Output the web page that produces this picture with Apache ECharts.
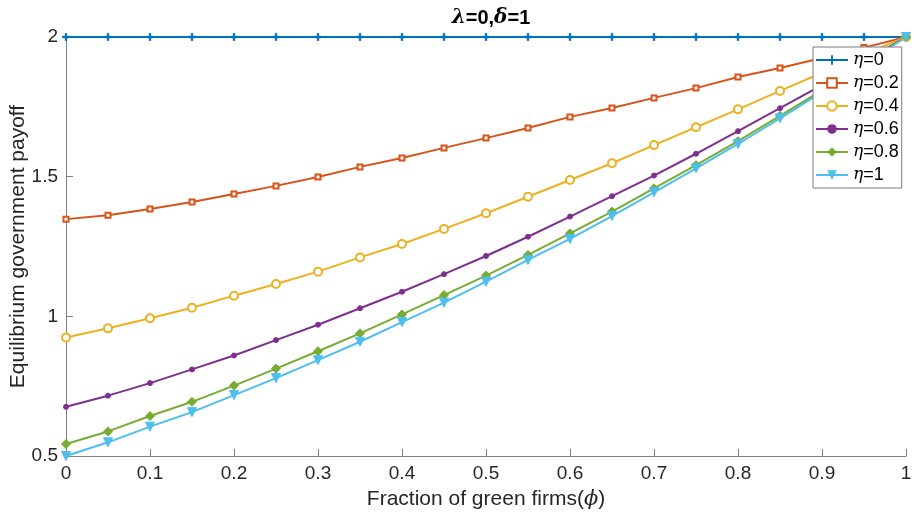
<!DOCTYPE html>
<html>
<head>
<meta charset="utf-8">
<script src="https://cdn.jsdelivr.net/npm/echarts@6/dist/echarts.min.js"></script>
<style>
html,body{margin:0;padding:0;background:#fff;}
#main{width:914px;height:516px;}
</style>
</head>
<body>
<div id="main"></div>
<script>
// phi 取值
var phi = [0,0.05,0.1,0.15,0.2,0.25,0.3,0.35,0.4,0.45,0.5,0.55,0.6,0.65,0.7,0.75,0.8,0.85,0.9,0.95,1];
var eta0  = [2,2,2,2,2,2,2,2,2,2,2,2,2,2,2,2,2,2,2,2,2];
var eta02 = [1.348,1.362,1.384,1.409,1.438,1.467,1.499,1.535,1.567,1.603,1.638,1.674,1.714,1.746,1.782,1.817,1.857,1.889,1.925,1.962,2.0];
var eta04 = [0.924,0.957,0.993,1.031,1.074,1.116,1.160,1.211,1.259,1.313,1.369,1.428,1.488,1.548,1.613,1.677,1.741,1.807,1.872,1.938,2.0];
var eta06 = [0.676,0.716,0.761,0.810,0.860,0.915,0.970,1.029,1.088,1.151,1.216,1.285,1.357,1.430,1.504,1.582,1.663,1.745,1.828,1.913,2.0];
var eta08 = [0.543,0.588,0.643,0.694,0.752,0.813,0.875,0.939,1.007,1.076,1.146,1.220,1.297,1.375,1.458,1.541,1.627,1.718,1.809,1.904,2.0];
var eta1  = [0.500,0.549,0.605,0.657,0.718,0.779,0.843,0.909,0.979,1.049,1.124,1.202,1.277,1.359,1.444,1.530,1.617,1.709,1.803,1.900,2.0];
var names = ['η=0','η=0.2','η=0.4','η=0.6','η=0.8','η=1'];
var colors = ['#0072BD','#D95319','#EDB120','#7E2F8E','#77AC30','#4DBEEE'];

var font = 'Liberation Sans, Arial, sans-serif';
var plus = 'path://M4,0H6V4H10V6H6V10H4V6H0V4H4Z';

function pairs(ys){
  var out=[];
  for(var i=0;i<phi.length;i++){ out.push([phi[i],ys[i]]); }
  return out;
}
function mkSeries(idx,ys,sym,size,extra){
  var s = {
    name:names[idx], type:'line', data:pairs(ys),
    symbol:sym, symbolSize:size, showSymbol:true,
    lineStyle:{color:colors[idx],width:2},
    itemStyle:{color:colors[idx],borderColor:colors[idx]},
    animation:false
  };
  for(var k in extra){ s[k]=extra[k]; }
  return s;
}

var chart = echarts.init(document.getElementById('main'));
var option = {
  backgroundColor:'#fff',
  title:{
    text:'{g|λ}{b|=0,}{g|δ}{b|=1}',
    left:486, top:3, textAlign:'center',
    textStyle:{
      rich:{
        g:{fontFamily:'DejaVu Serif, serif',fontStyle:'italic',fontWeight:'bold',fontSize:20,color:'#000'},
        b:{fontFamily:font,fontWeight:'bold',fontSize:20,color:'#000'}
      }
    }
  },
  grid:{left:66,right:8,top:37,bottom:60,containLabel:false,outerBoundsMode:'none'},
  legend:{
    orient:'vertical', left:813, top:47,
    backgroundColor:'#fff', borderColor:'#7a7a7a', borderWidth:1, borderRadius:0,
    padding:[4,3,4,2], itemWidth:32, itemHeight:12, itemGap:5,
    data:names,
    formatter:function(n){ return '{i|η}{n|'+n.slice(1)+'}'; },
    textStyle:{
      rich:{
        i:{fontFamily:'DejaVu Serif, serif',fontStyle:'italic',fontSize:17,color:'#000'},
        n:{fontFamily:font,fontSize:18,color:'#000'}
      }
    }
  },
  xAxis:{
    type:'value', min:0, max:1, interval:0.1,
    name:'{t|Fraction of green firms(}{i|ϕ}{t|)}', nameLocation:'middle', nameGap:33,
    nameMoveOverlap:false,
    nameTextStyle:{rich:{
      t:{fontFamily:font,fontSize:21,color:'#262626'},
      i:{fontFamily:'DejaVu Serif, serif',fontStyle:'italic',fontSize:21,color:'#262626'}
    }},
    axisLine:{lineStyle:{color:'#808080',width:1}},
    axisTick:{inside:true,length:7,lineStyle:{color:'#808080'}},
    axisLabel:{fontFamily:font,fontSize:19,color:'#262626',margin:8},
    splitLine:{show:false}
  },
  yAxis:{
    type:'value', min:0.5, max:2, interval:0.5,
    name:'Equilibrium government payoff', nameLocation:'middle', nameGap:37,
    nameMoveOverlap:false,
    nameTextStyle:{fontFamily:font,fontSize:21,color:'#262626'},
    axisLine:{show:true,lineStyle:{color:'#808080',width:1}},
    axisTick:{show:true,inside:true,length:7,lineStyle:{color:'#808080'}},
    axisLabel:{fontFamily:font,fontSize:19,color:'#262626',margin:8},
    splitLine:{show:false}
  },
  series:[
    mkSeries(0,eta0,plus,7,{}),
    mkSeries(1,eta02,'emptyRect',5,{}),
    mkSeries(2,eta04,'emptyCircle',8,{}),
    mkSeries(3,eta06,'circle',5,{}),
    mkSeries(4,eta08,'diamond',9,{}),
    mkSeries(5,eta1,'triangle',9,{symbolRotate:180})
  ]
};
chart.setOption(option);
</script>
</body>
</html>
